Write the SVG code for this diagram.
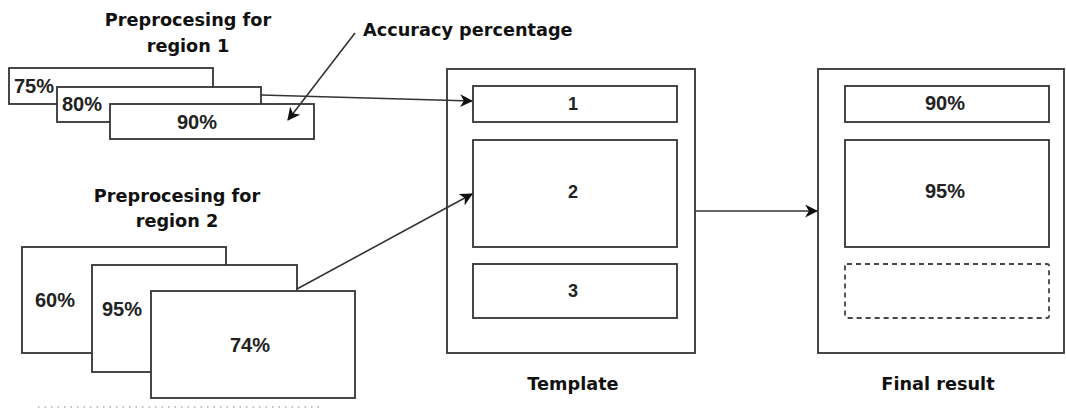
<svg xmlns="http://www.w3.org/2000/svg" width="1066" height="408" viewBox="0 0 1066 408">
<defs>
<style>
.box{fill:#fff;stroke:#333;stroke-width:1.8}
.dash{fill:#fff;stroke:#444;stroke-width:1.8;stroke-dasharray:5 4}
.ttl{font-family:"DejaVu Sans",Verdana,sans-serif;font-weight:bold;font-size:17.7px;fill:#111}
.pct{font-family:"Liberation Sans",Arial,sans-serif;font-weight:bold;font-size:20px;fill:#222}
.num{font-family:"Liberation Sans",Arial,sans-serif;font-weight:bold;font-size:18px;fill:#222}
.con{fill:none;stroke:#333;stroke-width:1.6}
</style>
<marker id="ah" viewBox="0 0 12 12" refX="11" refY="6" markerWidth="13" markerHeight="13" markerUnits="userSpaceOnUse" orient="auto">
<path d="M0,0 L12,6 L0,12 L3.5,6 z" fill="#111"/>
</marker>
</defs>
<rect width="1066" height="408" fill="#fff"/>

<g id="region1">
<text class="ttl" x="188" y="26" text-anchor="middle">Preprocesing for</text>
<text class="ttl" x="188" y="52" text-anchor="middle">region 1</text>
<rect class="box" x="9" y="68" width="204" height="36"/>
<text class="pct" x="14" y="93">75%</text>
<rect class="box" x="57" y="87" width="204" height="35"/>
<text class="pct" x="62" y="111">80%</text>
<rect class="box" x="110" y="104" width="204" height="35"/>
<text class="pct" x="197" y="129" text-anchor="middle">90%</text>
</g>

<g id="accuracy-label">
<text class="ttl" x="363" y="36">Accuracy percentage</text>
</g>

<g id="region2">
<text class="ttl" x="177" y="202" text-anchor="middle">Preprocesing for</text>
<text class="ttl" x="177" y="227" text-anchor="middle">region 2</text>
<rect class="box" x="22" y="247" width="204" height="106"/>
<text class="pct" x="35" y="307">60%</text>
<rect class="box" x="92" y="265" width="205" height="107"/>
<text class="pct" x="102" y="316">95%</text>
<rect class="box" x="151" y="291" width="204" height="107"/>
<text class="pct" x="250" y="352" text-anchor="middle">74%</text>
<line x1="38" y1="407" x2="323" y2="407" stroke="#aaa" stroke-width="1.5" stroke-dasharray="1.5 5"/>
</g>

<g id="template">
<rect class="box" x="447" y="69" width="248" height="284"/>
<rect class="box" x="473" y="86" width="204" height="36"/>
<text class="num" x="573" y="110" text-anchor="middle">1</text>
<rect class="box" x="473" y="140" width="204" height="107"/>
<text class="num" x="573" y="198" text-anchor="middle">2</text>
<rect class="box" x="473" y="264" width="204" height="54"/>
<text class="num" x="573" y="297" text-anchor="middle">3</text>
<text class="ttl" x="573" y="390" text-anchor="middle">Template</text>
</g>

<g id="final-result">
<rect class="box" x="818" y="69" width="246" height="284"/>
<rect class="box" x="845" y="86" width="204" height="36"/>
<text class="pct" x="945" y="110" text-anchor="middle">90%</text>
<rect class="box" x="845" y="140" width="204" height="107"/>
<text class="pct" x="945" y="198" text-anchor="middle">95%</text>
<rect class="dash" x="845" y="264" width="204" height="54" rx="2"/>
<text class="ttl" x="938" y="390" text-anchor="middle">Final result</text>
</g>

<g id="connectors">
<line class="con" x1="355" y1="33" x2="288" y2="120" marker-end="url(#ah)"/>
<line class="con" x1="261" y1="95" x2="472" y2="101" marker-end="url(#ah)"/>
<line class="con" x1="297" y1="289" x2="472" y2="194" marker-end="url(#ah)"/>
<line class="con" x1="695" y1="211" x2="817" y2="211" marker-end="url(#ah)"/>
</g>
</svg>
